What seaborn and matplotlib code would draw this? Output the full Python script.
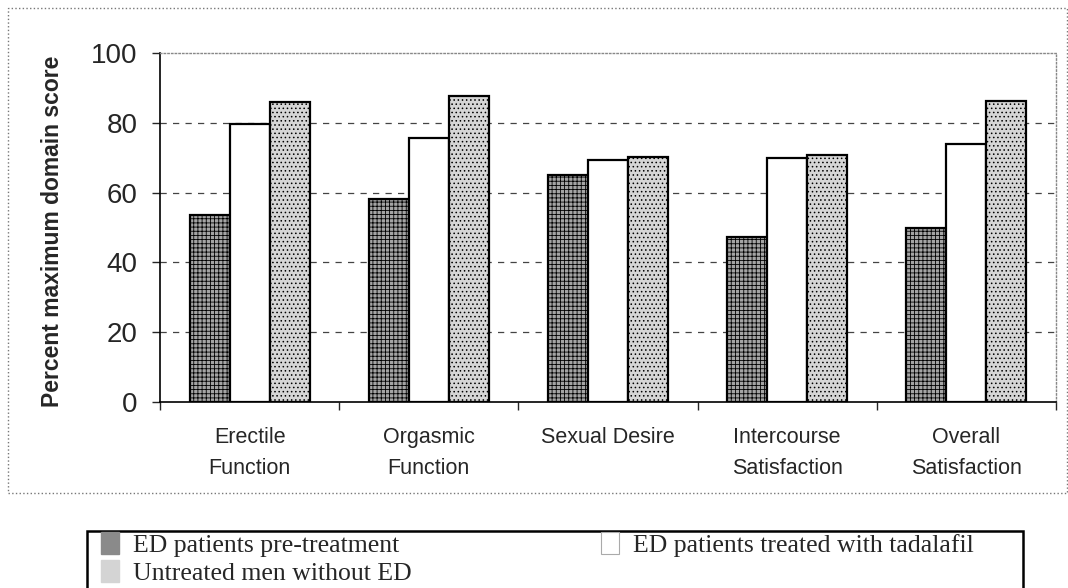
import numpy as np
import pandas as pd
import seaborn as sns
import matplotlib.pyplot as plt
from matplotlib.colors import to_rgba
from matplotlib.patches import Rectangle, Patch

# data
domains = ["Erectile\nFunction", "Orgasmic\nFunction", "Sexual Desire",
           "Intercourse\nSatisfaction", "Overall\nSatisfaction"]
groups = ["ED patients pre-treatment", "ED patients treated with tadalafil",
          "Untreated men without ED"]
pre_treatment = [53.5, 58.3, 65.0, 47.4, 49.8]
tadalafil = [79.7, 75.6, 69.4, 69.8, 73.9]
no_ed = [86.0, 87.7, 70.1, 70.7, 86.2]

df = pd.DataFrame({
    "domain": domains * 3,
    "group": [groups[0]] * 5 + [groups[1]] * 5 + [groups[2]] * 5,
    "score": pre_treatment + tadalafil + no_ed,
})

sns.set_style("white")
plt.rcParams["font.family"] = ["Liberation Sans", "DejaVu Sans"]
plt.rcParams["hatch.linewidth"] = 0.6

W, H = 1068, 588
fig = plt.figure(figsize=(W / 100, H / 100), dpi=100)
ax = fig.add_axes([160 / W, 1 - 402 / H, 896 / W, 349 / H])

sns.barplot(data=df, x="domain", y="score", hue="group", order=domains,
            hue_order=groups, width=0.67, ax=ax, legend=False,
            edgecolor="black", linewidth=1.6, errorbar=None)

styles = [("#a4a4a4", "++++", "#3a3a3a"),
          ("white", "", "black"),
          ("#d6d6d6", "....", "#7a7a7a")]
for cont, (fc, hatch, hc) in zip(ax.containers, styles):
    for bar in cont:
        bar.set_facecolor(fc)
        bar.set_hatch(hatch)
        bar._hatch_color = to_rgba(hc)
        bar.set_edgecolor("black")
        bar.set_zorder(3)

ax.set_ylim(0, 100)
ax.set_xlim(-0.5, 4.5)
ax.set_yticks([0, 20, 40, 60, 80, 100])
for y in [20, 40, 60, 80]:
    ax.axhline(y, color="#444444", lw=0.9, ls=(0, (5, 5)), zorder=1)

for side in ["top", "right"]:
    ax.spines[side].set_color("#888888")
    ax.spines[side].set_linestyle(":")
    ax.spines[side].set_linewidth(1.0)
ax.spines["left"].set_color("black")
ax.spines["bottom"].set_color("black")
ax.spines["left"].set_linewidth(1.2)
ax.spines["bottom"].set_linewidth(1.2)

ax.tick_params(axis="y", length=6, width=1, direction="out", labelsize=20, pad=10, left=True)
ax.tick_params(axis="x", length=0, labelsize=15.5, pad=18)
for lab in ax.get_xticklabels():
    lab.set_linespacing(1.6)
# ticks on the category axis between groups
ax.set_xticks(np.arange(-0.5, 5.0, 1.0), minor=True)
ax.tick_params(axis="x", which="minor", length=6, width=1, bottom=True)

ax.set_xlabel("")
ax.set_ylabel("Percent maximum domain score", fontsize=16.5, fontweight="bold")
ax.yaxis.set_label_coords(-96 / 896, 0.49)

# dotted frame round the chart
fig.patches.append(Rectangle((8 / W, 1 - 493 / H), 1059 / W, 485 / H,
                             transform=fig.transFigure, fill=False,
                             edgecolor="#777777", lw=1.0, ls=":"))
# frame of the legend
fig.patches.append(Rectangle((87 / W, 1 - 600 / H), 936 / W, 69 / H,
                             transform=fig.transFigure, fill=False,
                             edgecolor="black", lw=1.8))

leg_font = {"family": "Liberation Serif", "size": 18.5}
h_pre = Patch(facecolor="#8a8a8a", edgecolor="#8a8a8a", hatch="++++")
h_no = Patch(facecolor="#d4d4d4", edgecolor="#d4d4d4", hatch="....")
h_tad = Patch(facecolor="white", edgecolor="#aaaaaa", lw=0.8)
common = dict(loc="upper left", frameon=False, handlelength=0.7, handleheight=0.95,
              handletextpad=0.55, labelspacing=0.12, borderpad=0, borderaxespad=0,
              prop=leg_font)
fig.legend([h_pre, h_no], [groups[0], groups[2]],
           bbox_to_anchor=(101 / W, 1 - 532 / H), **common)
fig.legend([h_tad], [groups[1]],
           bbox_to_anchor=(601 / W, 1 - 532 / H), **common)

fig.savefig("out.png", dpi=100)
